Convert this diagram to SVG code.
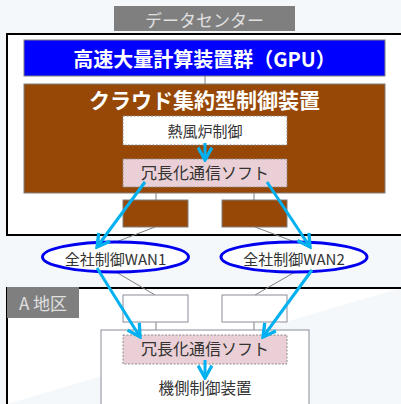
<svg xmlns="http://www.w3.org/2000/svg" width="401" height="404" viewBox="0 0 401 404">
<style>
.bg{fill:#f4f8fa}
.t{font-family:"Noto Sans CJK JP","Noto Sans CJK SC",sans-serif;text-anchor:middle;dominant-baseline:central}
.w{fill:#ffffff;font-weight:bold;font-size:20px}
.d{fill:#333333;font-size:15px}
.lbl{fill:#e0e0e0;font-size:17px}
.brown{fill:#974806;stroke:#7f7f7f;stroke-width:1}
.pink{fill:#ead0d6;stroke:#8c8c8c;stroke-width:1;stroke-dasharray:2,1.5}
.wbox{fill:#ffffff;stroke:#8c8c99;stroke-width:1}
.ln{stroke:#7f7f7f;stroke-width:1;fill:none}
.arr{stroke:#00b0f0;stroke-width:3;fill:none;marker-end:url(#ah)}
.wan{fill:#ffffff;stroke:#0000ee;stroke-width:3}
</style>
<defs>
<marker id="ah" viewBox="0 0 10 10" refX="8.5" refY="5" markerWidth="5.5" markerHeight="5.5" orient="auto" markerUnits="strokeWidth">
<path d="M1,0.8 L8.5,5 L1,9.2" fill="none" stroke="#00b0f0" stroke-width="2"/>
</marker>
</defs>
<rect class="bg" x="0" y="0" width="401" height="404"/>
<g id="dc-label">
<rect x="114" y="6" width="181" height="25" fill="#7f7f7f"/>
<text class="t lbl" x="204.5" y="19">データセンター</text>
</g>
<g id="datacenter">
<rect x="7" y="34" width="400" height="201" fill="#ffffff" stroke="#000000" stroke-width="2"/>
</g>
<g id="a-area">
<path d="M7,404 V288 H401" fill="#ffffff" stroke="#000000" stroke-width="2"/>
<rect x="7" y="287" width="72" height="31" fill="#7f7f7f"/>
<text class="t lbl" x="43" y="302">A 地区</text>
</g>
<g id="connectors">
<line class="ln" x1="205" y1="76" x2="205" y2="84"/>
<line class="ln" x1="156" y1="193" x2="156" y2="200"/>
<line class="ln" x1="254" y1="193" x2="254" y2="200"/>
<line class="ln" x1="155" y1="227" x2="116" y2="242"/>
<line class="ln" x1="255" y1="227" x2="295" y2="242"/>
<line class="ln" x1="116" y1="272" x2="155" y2="295"/>
<line class="ln" x1="295" y1="272" x2="255" y2="295"/>
<line class="ln" x1="156" y1="322" x2="156" y2="330"/>
<line class="ln" x1="254" y1="322" x2="254" y2="330"/>
</g>
<g id="gpu">
<rect x="24" y="40" width="361" height="36" fill="#0000ff" stroke="#7f7f7f" stroke-width="1"/>
<text class="t w" x="204.5" y="58">高速大量計算装置群（GPU）</text>
</g>
<g id="cloud">
<rect class="brown" x="24" y="84" width="361" height="109"/>
<text class="t w" x="204.5" y="99" style="font-size:21px">クラウド集約型制御装置</text>
</g>
<g id="netsufuro">
<rect x="123" y="116" width="164" height="29" fill="#ffffff" stroke="#8c8c8c" stroke-width="1" stroke-dasharray="2,1.5"/>
<text class="t d" x="205" y="130">熱風炉制御</text>
</g>
<g id="soft-top">
<rect class="pink" x="123" y="159" width="164" height="28"/>
<text class="t d" x="205" y="172" style="font-size:16px">冗長化通信ソフト</text>
</g>
<g id="brown1"><rect class="brown" x="123" y="200" width="65" height="27"/></g>
<g id="brown2"><rect class="brown" x="222" y="200" width="65" height="27"/></g>
<g id="wan1">
<ellipse class="wan" cx="115.5" cy="257" rx="73" ry="15"/>
<text class="t d" x="115.5" y="258">全社制御WAN1</text>
</g>
<g id="wan2">
<ellipse class="wan" cx="294" cy="257" rx="73" ry="15"/>
<text class="t d" x="294" y="258">全社制御WAN2</text>
</g>
<g id="white1"><rect class="wbox" x="123" y="295" width="65" height="27"/></g>
<g id="white2"><rect class="wbox" x="222" y="295" width="65" height="27"/></g>
<g id="kisoku">
<rect class="wbox" x="101" y="330" width="208" height="80"/>
<text class="t d" x="205" y="387" style="font-size:15.5px">機側制御装置</text>
</g>
<g id="soft-bottom">
<rect class="pink" x="123" y="335" width="164" height="29"/>
<text class="t d" x="205" y="348" style="font-size:16px">冗長化通信ソフト</text>
</g>
<g id="arrows">
<line class="arr" x1="205" y1="143" x2="205" y2="160"/>
<line class="arr" x1="145" y1="182" x2="97" y2="247"/>
<line class="arr" x1="267" y1="182" x2="310" y2="247"/>
<line class="arr" x1="97" y1="268" x2="140" y2="337"/>
<line class="arr" x1="312" y1="270" x2="263" y2="337"/>
<line class="arr" x1="205" y1="360" x2="205" y2="378"/>
</g>
</svg>
